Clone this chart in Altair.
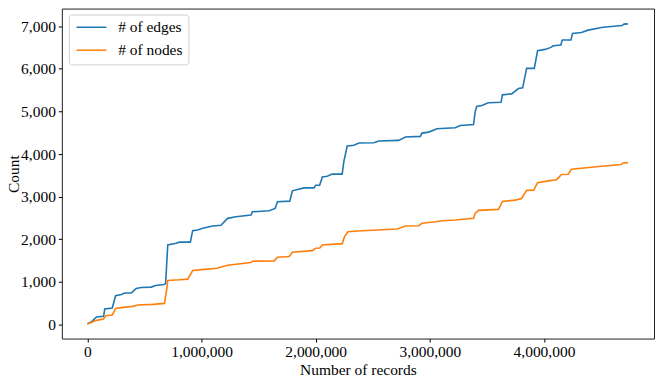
import altair as alt
import pandas as pd

# ---- data ----
edges_x = [0, 40000, 79000, 142000, 152000, 218000, 247000, 297000, 326000, 384000,
           400000, 428000, 471000, 559000, 597000, 672000, 685000, 704000, 777000, 806000,
           902000, 922000, 966000, 1010000, 1097000, 1170000, 1228000, 1301000, 1432000, 1446000,
           1592000, 1645000, 1665000, 1773000, 1796000, 1840000, 1898000, 1985000, 2000000, 2035000,
           2058000, 2101000, 2145000, 2232000, 2247000, 2276000, 2335000, 2378000, 2509000, 2553000,
           2727000, 2786000, 2917000, 2931000, 2990000, 3062000, 3223000, 3266000, 3383000, 3397000,
           3410000, 3455000, 3513000, 3624000, 3636000, 3717000, 3776000, 3813000, 3848000, 3915000,
           3944000, 4009000, 4061000, 4081000, 4148000, 4160000, 4236000, 4250000, 4328000, 4387000,
           4503000, 4590000, 4684000, 4701000, 4736000]
edges_y = [20, 77, 180, 195, 367, 390, 677, 708, 740, 740,
           778, 848, 872, 880, 918, 942, 960, 1870, 1910, 1935,
           1935, 2205, 2220, 2260, 2315, 2329, 2493, 2530, 2570, 2647,
           2671, 2726, 2881, 2897, 3138, 3170, 3208, 3208, 3271, 3271,
           3465, 3481, 3530, 3530, 3832, 4190, 4206, 4260, 4268, 4306,
           4322, 4400, 4416, 4493, 4516, 4595, 4619, 4673, 4696, 4984,
           5117, 5140, 5203, 5218, 5390, 5413, 5537, 5553, 6012, 6012,
           6425, 6456, 6503, 6542, 6558, 6675, 6675, 6830, 6853, 6908,
           6970, 6993, 7016, 7049, 7056]

nodes_x = [0, 79000, 142000, 160000, 218000, 247000, 311000, 398000, 442000, 573000,
           675000, 695000, 704000, 806000, 879000, 922000, 981000, 1140000, 1155000, 1228000,
           1432000, 1446000, 1636000, 1665000, 1767000, 1796000, 1970000, 2000000, 2035000, 2058000,
           2200000, 2232000, 2253000, 2282000, 2407000, 2713000, 2786000, 2902000, 2931000, 3048000,
           3106000, 3223000, 3383000, 3397000, 3426000, 3601000, 3636000, 3747000, 3804000, 3848000,
           3910000, 3944000, 4038000, 4110000, 4154000, 4212000, 4241000, 4328000, 4503000, 4678000,
           4693000, 4736000]
nodes_y = [16, 100, 133, 210, 226, 381, 404, 428, 460, 474,
           498, 818, 1035, 1051, 1067, 1269, 1285, 1324, 1340, 1394,
           1456, 1488, 1495, 1581, 1596, 1698, 1736, 1791, 1799, 1869,
           1895, 1895, 2064, 2180, 2203, 2243, 2313, 2320, 2376, 2414,
           2437, 2453, 2493, 2610, 2680, 2703, 2890, 2920, 2960, 3150,
           3154, 3330, 3372, 3400, 3521, 3528, 3645, 3668, 3715, 3754,
           3792, 3801]

series_names = ["# of edges", "# of nodes"]
series_colors = ["#1f77b4", "#ff7f0e"]
x_ticks = [0, 1000000, 2000000, 3000000, 4000000]
y_ticks = [0, 1000, 2000, 3000, 4000, 5000, 6000, 7000]

df = pd.concat([
    pd.DataFrame({"records": edges_x, "count": edges_y, "series": series_names[0], "order": range(len(edges_x))}),
    pd.DataFrame({"records": nodes_x, "count": nodes_y, "series": series_names[1], "order": range(len(nodes_x))}),
])

FONT = "Liberation Serif"
FS = 15.5

chart = alt.Chart(df).mark_line(strokeWidth=1.6).encode(
    x=alt.X("records:Q",
            scale=alt.Scale(domain=[-224000, 4964000], nice=False, zero=False),
            axis=alt.Axis(title="Number of records", values=x_ticks, format=",d",
                          titlePadding=2)),
    y=alt.Y("count:Q",
            scale=alt.Scale(domain=[-327, 7414], nice=False, zero=False),
            axis=alt.Axis(title="Count", values=y_ticks, format=",d",
                          titleX=-48.5, titleY=165.5, titleAngle=270,
                          titleAlign="center", titleBaseline="middle")),
    color=alt.Color("series:N",
                    scale=alt.Scale(domain=series_names, range=series_colors),
                    legend=alt.Legend(title=None, orient="none", legendX=7, legendY=6,
                                      symbolType="M-1,0H5", symbolSize=100,
                                      symbolStrokeWidth=1.5, labelOffset=29,
                                      rowPadding=6, padding=5,
                                      strokeColor="#d0d0d0", fillColor="white",
                                      cornerRadius=3)),
    order="order:Q",
).properties(
    width=594, height=331,
    autosize=alt.AutoSizeParams(type="none"),
    padding={"left": 54, "top": 0, "right": 3, "bottom": 40},
).configure_view(
    stroke="#222222", strokeWidth=1
).configure_axis(
    labelFont=FONT, labelFontSize=FS, labelColor="black",
    titleFont=FONT, titleFontSize=FS, titleColor="black", titleFontWeight="normal",
    tickColor="black", tickSize=3.5, tickWidth=1, labelPadding=3,
    domain=False, grid=False,
).configure_legend(
    labelFont=FONT, labelFontSize=FS, labelColor="black",
)

chart.save("out.html", embed_options={"renderer": "svg", "actions": False})
